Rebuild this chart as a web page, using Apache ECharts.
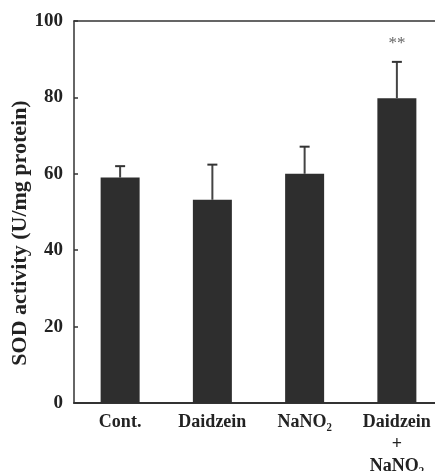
<!DOCTYPE html>
<html>
<head>
<meta charset="utf-8">
<script src="https://cdn.jsdelivr.net/npm/echarts@6/dist/echarts.min.js"></script>
<style>html,body{margin:0;padding:0;background:#fff;}#c{width:435px;height:471px;}</style>
</head>
<body>
<div id="c"></div>
<script>
const categories = ['Cont.', 'Daidzein', 'NaNO\u2082', 'Daidzein\n+\nNaNO\u2082'];
const means = [59, 53.2, 60, 79.8];
const sds = [3, 9.2, 7.1, 9.5];
const marks = ['', '', '', '**'];
const yTicks = [0, 20, 40, 60, 80, 100];

const FONT = '"Liberation Serif", "DejaVu Serif", serif';
const chart = echarts.init(document.getElementById('c'), null, {renderer: 'canvas'});

const errData = means.map((m, i) => [i, m, sds[i]]);

chart.setOption({
  animation: false,
  backgroundColor: '#fff',
  grid: {left: 74, top: 21, width: 369, height: 382, outerBoundsMode: 'none', containLabel: false},
  xAxis: [{
    type: 'category',
    data: categories,
    axisLine: {lineStyle: {color: '#333', width: 2}},
    axisTick: {show: false},
    axisLabel: {fontFamily: FONT, fontWeight: 'bold', fontSize: 18, color: '#222', margin: 8, lineHeight: 22, interval: 0}
  }, {
    type: 'category',
    position: 'top',
    data: categories,
    axisLine: {show: true, lineStyle: {color: '#333', width: 1.5}},
    axisTick: {show: false},
    axisLabel: {show: false}
  }],
  yAxis: {
    type: 'value',
    min: 0, max: 100, interval: 20,
    axisLine: {show: true, lineStyle: {color: '#333', width: 1.5}},
    axisTick: {show: true, inside: true, length: 4, lineStyle: {color: '#333', width: 1.5}},
    splitLine: {show: false},
    axisLabel: {fontFamily: FONT, fontWeight: 'bold', fontSize: 19, color: '#222', margin: 11,
      formatter: v => yTicks.includes(v) ? String(v) : ''}
  },
  graphic: [{
    type: 'text', x: 20, y: 233, rotation: Math.PI / 2,
    style: {text: 'SOD activity (U/mg protein)', font: 'bold 22px ' + FONT, fill: '#222', textAlign: 'center', textVerticalAlign: 'middle'}
  }],
  series: [{
    type: 'bar',
    data: means,
    barWidth: 39,
    itemStyle: {color: '#2e2e2e'},
    z: 2
  }, {
    type: 'custom',
    data: errData,
    z: 3,
    renderItem: function (params, api) {
      const i = api.value(0), m = api.value(1), sd = api.value(2);
      const p0 = api.coord([i, m]);
      const p1 = api.coord([i, m + sd]);
      const hw = 5;
      const children = [
        {type: 'line', shape: {x1: p0[0], y1: p0[1], x2: p1[0], y2: p1[1]}, style: {stroke: '#444', lineWidth: 2}},
        {type: 'line', shape: {x1: p1[0] - hw, y1: p1[1], x2: p1[0] + hw, y2: p1[1]}, style: {stroke: '#333', lineWidth: 2}}
      ];
      if (marks[params.dataIndex]) {
        children.push({type: 'text', x: p1[0], y: p1[1] - 18,
          style: {text: marks[params.dataIndex], font: '17px ' + FONT, fill: '#666', textAlign: 'center', textVerticalAlign: 'middle'}});
      }
      return {type: 'group', children: children};
    }
  }]
});
</script>
</body>
</html>
